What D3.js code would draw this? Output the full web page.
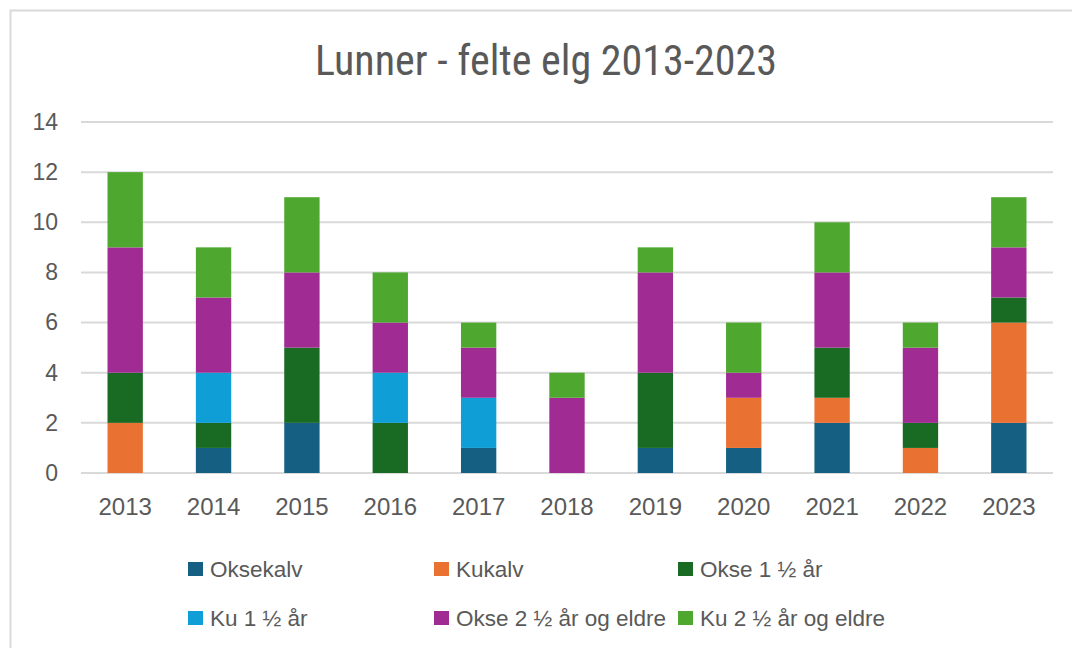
<!DOCTYPE html>
<html>
<head>
<meta charset="utf-8">
<script src="https://cdn.jsdelivr.net/npm/d3@7"></script>
<style>
  body { margin: 0; background: #fff; }
  text { font-family: "Liberation Sans", Arial, sans-serif; }
  .title { font-family: "Liberation Sans Narrow", "Roboto Condensed", "Noto Sans", sans-serif; }
</style>
</head>
<body>
<div id="wrapper"></div>
<script>
const years = ["2013", "2014", "2015", "2016", "2017", "2018", "2019", "2020", "2021", "2022", "2023"]
const seriesNames = ["Oksekalv", "Kukalv", "Okse 1 ½ år", "Ku 1 ½ år", "Okse 2 ½ år og eldre", "Ku 2 ½ år og eldre"]
const seriesColors = ["#156082", "#E97132", "#196B24", "#0F9ED5", "#A02B93", "#4EA72E"]

const oksekalv = [0, 1, 2, 0, 1, 0, 1, 1, 2, 0, 2]
const kukalv = [2, 0, 0, 0, 0, 0, 0, 2, 1, 1, 4]
const okse15 = [2, 1, 3, 2, 0, 0, 3, 0, 2, 1, 1]
const ku15 = [0, 2, 0, 2, 2, 0, 0, 0, 0, 0, 0]
const okse25 = [5, 3, 3, 2, 2, 3, 4, 1, 3, 3, 2]
const ku25 = [3, 2, 3, 2, 1, 1, 1, 2, 2, 1, 2]

const yTicks = [0, 2, 4, 6, 8, 10, 12, 14]

const seriesValues = [oksekalv, kukalv, okse15, ku15, okse25, ku25]
const table = years.map((y, i) => {
    const row = { year: y }
    seriesNames.forEach((s, j) => row[s] = seriesValues[j][i])
    return row
})

const width = 1072
const height = 648
const margin = { top: 122, right: 19, bottom: 175, left: 81 }
const boundedWidth = width - margin.left - margin.right
const boundedHeight = height - margin.top - margin.bottom

const svg = d3.select("#wrapper").append("svg")
    .attr("width", width)
    .attr("height", height)

// chart border
svg.append("rect")
    .attr("x", 10.5).attr("y", 10.5)
    .attr("width", width + 10).attr("height", height + 10)
    .attr("fill", "none")
    .attr("stroke", "#d9d9d9")
    .attr("stroke-width", 2)

svg.append("text")
    .attr("class", "title")
    .attr("x", 546).attr("y", 75)
    .attr("text-anchor", "middle")
    .attr("fill", "#595959")
    .style("font-size", "42px")
    .text("Lunner - felte elg 2013-2023")

const bounds = svg.append("g")
    .attr("transform", `translate(${margin.left},${margin.top})`)

const xScale = d3.scaleBand()
    .domain(years)
    .range([0, boundedWidth])
    .paddingInner(0.6)
    .paddingOuter(0.3)

const yScale = d3.scaleLinear()
    .domain([0, 14])
    .range([boundedHeight, 0])

// gridlines
bounds.append("g")
    .selectAll("line")
    .data(yTicks)
    .join("line")
    .attr("x1", 0).attr("x2", boundedWidth)
    .attr("y1", d => yScale(d)).attr("y2", d => yScale(d))
    .attr("stroke", "#d9d9d9")
    .attr("stroke-width", 2)

const stacked = d3.stack().keys(seriesNames)(table)

bounds.append("g")
    .selectAll("g")
    .data(stacked)
    .join("g")
    .attr("fill", (d, i) => seriesColors[i])
    .selectAll("rect")
    .data(d => d)
    .join("rect")
    .attr("x", d => xScale(d.data.year))
    .attr("width", xScale.bandwidth())
    .attr("y", d => yScale(d[1]))
    .attr("height", d => yScale(d[0]) - yScale(d[1]))

const yAxis = bounds.append("g")
    .call(d3.axisLeft(yScale).tickValues(yTicks).tickSize(0).tickPadding(23))
yAxis.select(".domain").remove()
yAxis.selectAll("text").attr("fill", "#595959").style("font-size", "23px")

const xAxis = bounds.append("g")
    .attr("transform", `translate(0,${boundedHeight})`)
    .call(d3.axisBottom(xScale).tickSize(0).tickPadding(25))
xAxis.select(".domain").remove()
xAxis.selectAll("text").attr("fill", "#595959").style("font-size", "24px")

// legend
const legendX = [188, 434, 678]
const legendY = [569, 618]
const legend = svg.append("g")
    .selectAll("g")
    .data(seriesNames)
    .join("g")
    .attr("transform", (d, i) => `translate(${legendX[i % 3]},${legendY[Math.floor(i / 3)]})`)
legend.append("rect")
    .attr("x", 0).attr("y", -7)
    .attr("width", 15).attr("height", 14)
    .attr("fill", (d, i) => seriesColors[i])
legend.append("text")
    .attr("x", 22).attr("y", 0)
    .attr("dy", "0.36em")
    .attr("fill", "#595959")
    .style("font-size", "22.5px")
    .text(d => d)
</script>
</body>
</html>
